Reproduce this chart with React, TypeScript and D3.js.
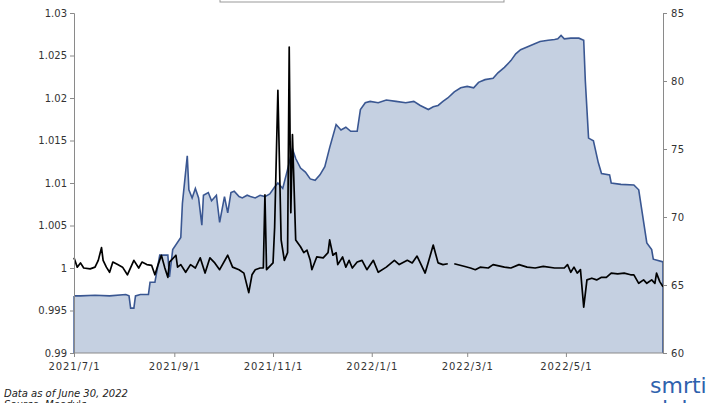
import React, { useEffect, useRef } from "react";
import * as d3 from "d3";

// area series (right axis)
const areaDates = [
  "2021-07-01", "2021-07-05", "2021-07-14", "2021-07-23", "2021-08-02", "2021-08-04", "2021-08-05", "2021-08-07",
  "2021-08-08", "2021-08-11", "2021-08-16", "2021-08-17", "2021-08-20", "2021-08-23", "2021-08-28", "2021-08-29",
  "2021-08-31", "2021-09-05", "2021-09-06", "2021-09-09", "2021-09-10", "2021-09-12", "2021-09-14", "2021-09-16",
  "2021-09-18", "2021-09-19", "2021-09-22", "2021-09-24", "2021-09-27", "2021-09-29", "2021-10-02", "2021-10-04",
  "2021-10-06", "2021-10-08", "2021-10-11", "2021-10-13", "2021-10-16", "2021-10-18", "2021-10-21", "2021-10-24",
  "2021-10-27", "2021-10-30", "2021-11-02", "2021-11-04", "2021-11-07", "2021-11-10", "2021-11-13", "2021-11-15",
  "2021-11-18", "2021-11-21", "2021-11-24", "2021-11-27", "2021-11-30", "2021-12-03", "2021-12-06", "2021-12-10",
  "2021-12-13", "2021-12-16", "2021-12-19", "2021-12-23", "2021-12-25", "2021-12-28", "2021-12-31", "2022-01-05",
  "2022-01-10", "2022-01-16", "2022-01-22", "2022-01-27", "2022-01-31", "2022-02-05", "2022-02-08", "2022-02-11",
  "2022-02-14", "2022-02-17", "2022-02-21", "2022-02-25", "2022-03-01", "2022-03-05", "2022-03-08", "2022-03-12",
  "2022-03-17", "2022-03-20", "2022-03-24", "2022-03-28", "2022-03-31", "2022-04-03", "2022-04-07", "2022-04-11",
  "2022-04-15", "2022-04-20", "2022-04-24", "2022-04-26", "2022-04-28", "2022-04-30", "2022-05-04", "2022-05-09",
  "2022-05-12", "2022-05-13", "2022-05-15", "2022-05-18", "2022-05-21", "2022-05-23", "2022-05-28", "2022-05-29",
  "2022-06-04", "2022-06-12", "2022-06-15", "2022-06-20", "2022-06-23", "2022-06-24", "2022-06-30",
];
const areaValues = [
  64.2, 64.2, 64.25, 64.2, 64.3, 64.2, 63.3, 63.3,
  64.2, 64.3, 64.3, 65.2, 65.2, 67.2, 67.2, 65.6,
  67.6, 68.5, 71.0, 74.5, 72.0, 71.4, 72.1, 71.4,
  69.4, 71.6, 71.8, 71.2, 71.6, 69.6, 71.5, 70.3,
  71.8, 71.9, 71.5, 71.4, 71.6, 71.5, 71.4, 71.6,
  71.5, 71.7, 72.2, 72.5, 72.1, 73.5, 75.0, 74.3,
  73.6, 73.3, 72.8, 72.7, 73.1, 73.7, 75.1, 76.8,
  76.4, 76.6, 76.3, 76.3, 77.9, 78.4, 78.5, 78.4,
  78.6, 78.5, 78.4, 78.5, 78.2, 77.9, 78.1, 78.2,
  78.5, 78.75, 79.2, 79.5, 79.6, 79.5, 79.9, 80.1,
  80.2, 80.6, 81.0, 81.5, 82.0, 82.3, 82.5, 82.7,
  82.9, 83.0, 83.05, 83.1, 83.35, 83.1, 83.15, 83.15,
  83.0, 80.0, 75.8, 75.6, 74.0, 73.2, 73.1, 72.5,
  72.4, 72.35, 72.0, 68.1, 67.6, 66.9, 66.7,
];

// line series (left axis), null = gap
const lineDates = [
  "2021-07-01", "2021-07-03", "2021-07-05", "2021-07-07", "2021-07-11", "2021-07-14", "2021-07-16", "2021-07-18",
  "2021-07-19", "2021-07-21", "2021-07-23", "2021-07-25", "2021-07-28", "2021-07-31", "2021-08-03", "2021-08-07",
  "2021-08-10", "2021-08-12", "2021-08-15", "2021-08-18", "2021-08-20", "2021-08-22", "2021-08-24", "2021-08-26",
  "2021-08-28", "2021-08-29", "2021-09-02", "2021-09-03", "2021-09-05", "2021-09-08", "2021-09-11", "2021-09-14",
  "2021-09-17", "2021-09-20", "2021-09-23", "2021-09-26", "2021-09-29", "2021-10-04", "2021-10-07", "2021-10-11",
  "2021-10-14", "2021-10-17", "2021-10-19", "2021-10-21", "2021-10-24", "2021-10-26", "2021-10-27", "2021-10-28",
  "2021-11-01", "2021-11-02", "2021-11-04", "2021-11-06", "2021-11-08", "2021-11-10", "2021-11-11", "2021-11-12",
  "2021-11-13", "2021-11-15", "2021-11-18", "2021-11-20", "2021-11-22", "2021-11-24", "2021-11-25", "2021-11-28",
  "2021-12-02", "2021-12-05", "2021-12-06", "2021-12-08", "2021-12-10", "2021-12-11", "2021-12-14", "2021-12-16",
  "2021-12-18", "2021-12-20", "2021-12-23", "2021-12-26", "2021-12-29", "2022-01-02", "2022-01-05", "2022-01-10",
  "2022-01-15", "2022-01-18", "2022-01-23", "2022-01-26", "2022-01-29", "2022-01-31", "2022-02-03", "2022-02-05",
  "2022-02-08", "2022-02-11", "2022-02-14", "2022-02-17", "2022-02-19", "2022-02-21", "2022-02-27", "2022-03-03",
  "2022-03-06", "2022-03-09", "2022-03-14", "2022-03-17", "2022-03-24", "2022-03-28", "2022-04-02", "2022-04-07",
  "2022-04-12", "2022-04-17", "2022-04-24", "2022-04-30", "2022-05-02", "2022-05-04", "2022-05-06", "2022-05-08",
  "2022-05-10", "2022-05-12", "2022-05-14", "2022-05-17", "2022-05-20", "2022-05-23", "2022-05-26", "2022-05-29",
  "2022-06-02", "2022-06-06", "2022-06-10", "2022-06-12", "2022-06-15", "2022-06-18", "2022-06-20", "2022-06-23",
  "2022-06-25", "2022-06-26", "2022-06-28", "2022-06-30",
];
const lineValues: (number | null)[] = [
  1.0012, 1.0001, 1.0006, 1.0, 0.9999, 1.0001, 1.0009, 1.0024,
  1.0009, 1.0001, 0.9995, 1.0007, 1.0004, 1.0001, 0.9992, 1.0009,
  1.0, 1.0007, 1.0004, 1.0003, 0.9992, 1.0004, 1.0015, 1.0001,
  0.9989, 1.0007, 1.0015, 1.0001, 1.0004, 0.9995, 1.0004, 1.0,
  1.0012, 0.9994, 1.0012, 1.0006, 0.9998, 1.0015, 1.0001, 0.9998,
  0.9994, 0.9971, 0.9992, 0.9998, 1.0, 1.0, 1.0086, 0.9998,
  1.0006, 1.0048, 1.0209, 1.0033, 1.0009, 1.0018, 1.026, 1.0065,
  1.0157, 1.0033, 1.0025, 1.0018, 1.0021, 1.0009, 0.9998, 1.0013,
  1.0012, 1.0018, 1.0033, 1.0015, 1.0018, 1.0004, 1.0013, 1.0001,
  1.0009, 1.0, 1.0007, 1.0009, 0.9998, 1.0009, 0.9995, 1.0001,
  1.0009, 1.0004, 1.0009, 1.0006, 1.0014, 1.0006, 0.9994, 1.0007,
  1.0027, 1.0006, 1.0004, 1.0005, null, 1.0005, 1.0002, 1.0,
  0.9998, 1.0001, 1.0, 1.0004, 1.0001, 1.0, 1.0004, 1.0001,
  1.0, 1.0002, 1.0, 1.0, 1.0004, 0.9995, 1.0001, 0.9994,
  0.9998, 0.9954, 0.9986, 0.9988, 0.9986, 0.9989, 0.9989, 0.9994,
  0.9993, 0.9994, 0.9992, 0.9992, 0.9982, 0.9986, 0.9982, 0.9986,
  0.9982, 0.9994, 0.9984, 0.9978,
];

const leftTicks = [0.99, 0.995, 1, 1.005, 1.01, 1.015, 1.02, 1.025, 1.03];
const rightTicks = [60, 65, 70, 75, 80, 85];
const dateTicks = ["2021-07-01", "2021-09-01", "2021-11-01", "2022-01-01", "2022-03-01", "2022-05-01"];
const dateDomain = ["2021-07-01", "2022-06-30"];

const W = 728;
const H = 403;
const m = { l: 74, r: 663, t: 13, b: 353 };
const parse = d3.timeParse("%Y-%m-%d");
const axisColor = "#8a8a8a";
const textColor = "#333";
const font = "'DejaVu Sans', Verdana, sans-serif";

export default function App() {
  const leftRef = useRef<SVGGElement>(null);
  const rightRef = useRef<SVGGElement>(null);
  const bottomRef = useRef<SVGGElement>(null);

  const x = d3.scaleTime()
    .domain(dateDomain.map(d => parse(d) as Date))
    .range([m.l, m.r]);
  const yL = d3.scaleLinear().domain([0.99, 1.03]).range([m.b, m.t]);
  const yR = d3.scaleLinear().domain([60, 85]).range([m.b, m.t]);

  const areaData = areaDates.map((d, i) => ({ date: parse(d) as Date, v: areaValues[i] }));
  const lineData = lineDates.map((d, i) => ({ date: parse(d) as Date, v: lineValues[i] }));

  const area = d3.area<{ date: Date; v: number }>()
    .x(d => x(d.date))
    .y0(m.b)
    .y1(d => yR(d.v));
  const topLine = d3.line<{ date: Date; v: number }>()
    .x(d => x(d.date))
    .y(d => yR(d.v));
  const line = d3.line<{ date: Date; v: number | null }>()
    .defined(d => d.v !== null)
    .x(d => x(d.date))
    .y(d => yL(d.v as number));

  const last = areaData[areaData.length - 1];
  const first = areaData[0];

  useEffect(() => {
    const style = (g: d3.Selection<SVGGElement, unknown, null, undefined>, size: number, spacing: number) => {
      g.select(".domain").attr("stroke", axisColor);
      g.selectAll(".tick line").attr("stroke", axisColor);
      g.selectAll(".tick text")
        .attr("fill", textColor)
        .style("font-family", font)
        .style("font-size", `${size}px`)
        .style("letter-spacing", `${spacing}px`);
    };
    const left = d3.select(leftRef.current!);
    left.call(
      d3.axisLeft(yL)
        .tickValues(leftTicks)
        .tickSize(4)
        .tickPadding(3)
        .tickFormat(d => String(+(+d).toFixed(3)))
    );
    style(left, 10, 0);

    const right = d3.select(rightRef.current!);
    right.call(d3.axisRight(yR).tickValues(rightTicks).tickSize(4).tickPadding(4));
    style(right, 10, 0.5);

    const bottom = d3.select(bottomRef.current!);
    bottom.call(
      d3.axisBottom(x)
        .tickValues(dateTicks.map(d => parse(d) as Date))
        .tickSize(4)
        .tickPadding(6)
        .tickFormat(d => d3.timeFormat("%Y/%-m/%-d")(d as Date))
    );
    style(bottom, 10, 0.9);
    bottom.select(".domain").remove();
  }, []);

  return (
    <svg width={W} height={H} style={{ position: "absolute", left: 0, top: 0, background: "#fff" }}>
      <rect x={220} y={-10} width={284} height={12} fill="none" stroke="#999" />

      <path d={area(areaData) || ""} fill="#c5d0e1" />
      <path d={topLine(areaData) || ""} fill="none" stroke="#3a5792" strokeWidth={1.6} />
      <line x1={x(first.date)} x2={x(first.date)} y1={yR(first.v)} y2={m.b} stroke="#3a5792" strokeWidth={1.4} />
      <line x1={x(last.date)} x2={x(last.date)} y1={yR(last.v)} y2={m.b} stroke="#3a5792" strokeWidth={1.6} />

      <path d={line(lineData) || ""} fill="none" stroke="#000" strokeWidth={1.7} strokeLinejoin="round" />

      <g ref={leftRef} transform={`translate(${m.l},0)`} />
      <g ref={rightRef} transform={`translate(${m.r},0)`} />
      <g ref={bottomRef} transform={`translate(0,${m.b})`} />
      <line x1={m.l} x2={m.r} y1={m.b} y2={m.b} stroke={axisColor} />

      <text x={4} y={397} fontFamily={font} fontSize={10} fontStyle="italic" fill="#222">Data as of June 30, 2022</text>
      <text x={4} y={408} fontFamily={font} fontSize={10} fontStyle="italic" fill="#222">Source: Moody's</text>

      <text x={650} y={393} fontFamily={font} fontSize={22} fill="#2f62ad">smrti</text>
      <text x={662} y={416} fontFamily={font} fontSize={22} fill="#2f62ad">lab</text>
    </svg>
  );
}
